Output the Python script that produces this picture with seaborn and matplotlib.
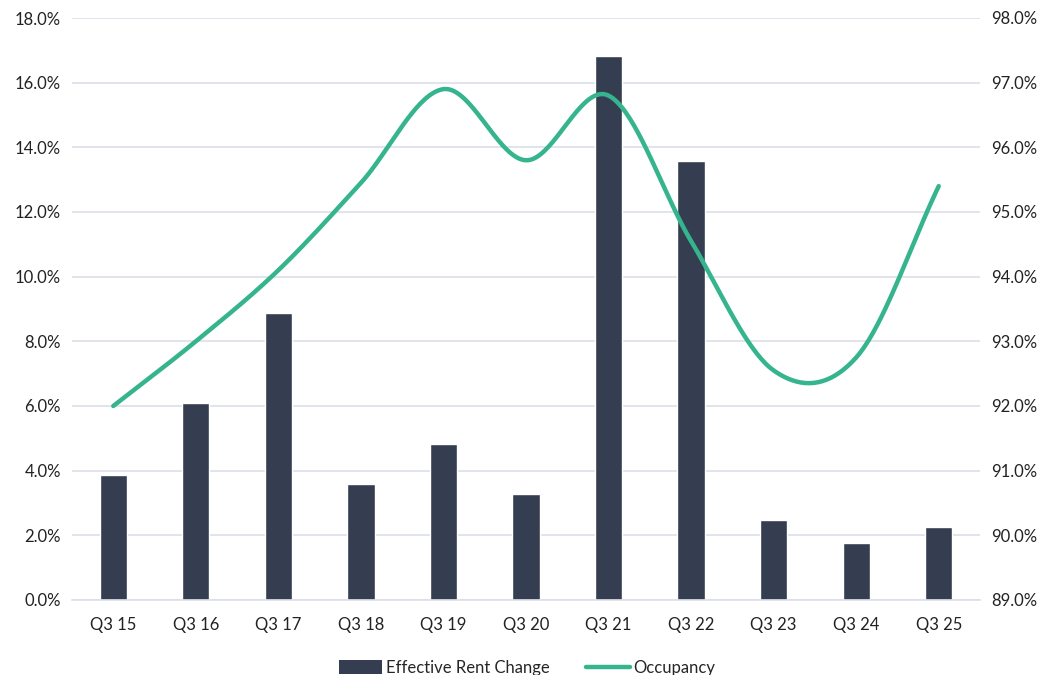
import numpy as np
import pandas as pd
import matplotlib
matplotlib.use("Agg")
import matplotlib.pyplot as plt
import seaborn as sns
from matplotlib.patches import Patch
from matplotlib.lines import Line2D
from matplotlib.ticker import FuncFormatter

categories = ["Q3 15", "Q3 16", "Q3 17", "Q3 18", "Q3 19", "Q3 20",
              "Q3 21", "Q3 22", "Q3 23", "Q3 24", "Q3 25"]
rent_change = [3.87, 6.1, 8.88, 3.59, 4.82, 3.28, 16.84, 13.58, 2.47, 1.76, 2.26]
occupancy = [92.0, 93.0, 94.1, 95.45, 96.9, 95.8, 96.8, 94.55, 92.55, 92.75, 95.4]

BAR_COLOR = "#343E50"
LINE_COLOR = "#35B48E"
GRID_COLOR = "#DCDFEA"

sns.set_theme(style="white")
plt.rcParams["font.family"] = ["Lato", "DejaVu Sans"]

fig = plt.figure(figsize=(10.49, 6.75), dpi=100)
ax = fig.add_axes([72 / 1049, 1 - 600 / 675, (980 - 72) / 1049, (600 - 18) / 675])

df = pd.DataFrame({"cat": categories, "rent": rent_change})
sns.barplot(data=df, x="cat", y="rent", color=BAR_COLOR, width=0.33,
            saturation=1, ax=ax, zorder=2)
ax.set_ylim(0, 18)
ax.set_yticks(np.arange(0, 18.1, 2))
ax.yaxis.set_major_formatter(FuncFormatter(lambda v, p: f"{v:.1f}%"))
ax.grid(axis="y", color=GRID_COLOR, linewidth=1.2, zorder=0)
ax.set_axisbelow(True)
ax.set_xlabel("")
ax.set_ylabel("")
ax.set_xlim(-0.5, len(categories) - 0.5)
for s in ax.spines.values():
    s.set_visible(False)
ax.spines["bottom"].set_visible(True)
ax.spines["bottom"].set_color(GRID_COLOR)
ax.spines["bottom"].set_linewidth(1.2)
ax.tick_params(axis="both", length=0, labelsize=12, colors="#222222")
ax.tick_params(axis="x", pad=12)
ax.tick_params(axis="y", pad=8)

# Smooth (Catmull-Rom) curve through occupancy points, like Excel's smoothed line
xs = np.arange(len(occupancy), dtype=float)
ys = np.array(occupancy, dtype=float)
px = np.concatenate([[2 * xs[0] - xs[1]], xs, [2 * xs[-1] - xs[-2]]])
py = np.concatenate([[2 * ys[0] - ys[1]], ys, [2 * ys[-1] - ys[-2]]])
sx, sy = [], []
t = np.linspace(0, 1, 40)
for i in range(1, len(px) - 2):
    p0, p1, p2, p3 = [np.array([px[j], py[j]]) for j in (i - 1, i, i + 1, i + 2)]
    c1 = p1 + (p2 - p0) / 6
    c2 = p2 - (p3 - p1) / 6
    for tt in t[:-1] if i < len(px) - 3 else t:
        b = ((1 - tt) ** 3) * p1 + 3 * ((1 - tt) ** 2) * tt * c1 + 3 * (1 - tt) * tt ** 2 * c2 + tt ** 3 * p2
        sx.append(b[0])
        sy.append(b[1])

ax2 = ax.twinx()
sns.lineplot(x=sx, y=sy, color=LINE_COLOR, linewidth=3.2, ax=ax2, sort=False,
             solid_capstyle="round")
ax2.set_ylim(89, 98)
ax2.set_yticks(np.arange(89, 98.1, 1))
ax2.yaxis.set_major_formatter(FuncFormatter(lambda v, p: f"{v:.1f}%"))
ax2.set_xlim(-0.5, len(categories) - 0.5)
ax2.grid(False)
for s in ax2.spines.values():
    s.set_visible(False)
ax2.tick_params(axis="y", length=0, labelsize=12, colors="#222222", pad=8)
ax2.set_ylabel("")

handles = [Patch(facecolor=BAR_COLOR, edgecolor="none"),
           Line2D([0], [0], color=LINE_COLOR, linewidth=3.2)]
fig.legend(handles, ["Effective Rent Change", "Occupancy"], loc="center",
           bbox_to_anchor=(527 / 1049, 1 - 668 / 675), ncol=2, frameon=False,
           fontsize=12, handlelength=2.6, handleheight=0.9, columnspacing=2.2,
           handletextpad=0.2)

fig.savefig("out.png", dpi=100)
